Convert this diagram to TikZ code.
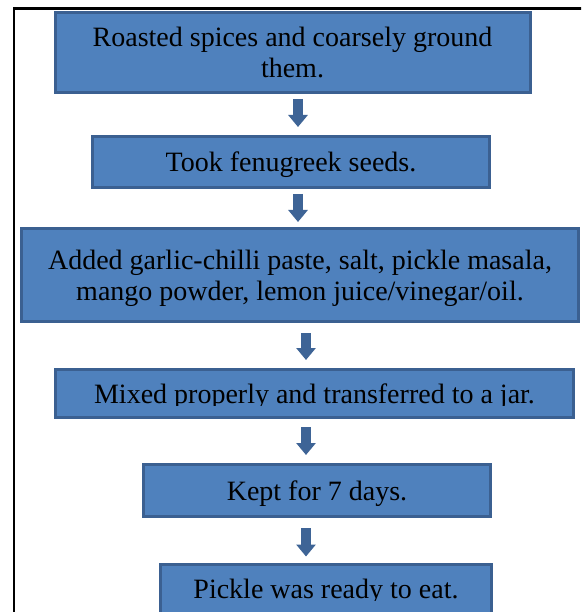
\documentclass[tikz,border=0pt]{standalone}
\usepackage{fontspec}
\setmainfont{Liberation Serif}
\usetikzlibrary{arrows.meta}
\definecolor{boxfill}{HTML}{4F81BD}
\definecolor{boxline}{HTML}{3B6091}
\definecolor{arrowc}{HTML}{3E6496}
\tikzset{
  stepbox/.style={draw=boxline, fill=boxfill, line width=3pt, rectangle, inner sep=0pt},
  steptext/.style={font=\fontsize{28}{31}\selectfont, text=black, align=center, inner sep=0pt, anchor=base},
  blockarrow/.style={draw=arrowc, line width=9.5pt, -{Triangle[width=19pt,length=12pt]}, arrowc},
}
\begin{document}
\begin{tikzpicture}[x=1pt,y=-1pt]
\clip (0,0) rectangle (581,612);
\fill[white] (0,0) rectangle (581,612);
% outer frame
\draw[line width=2.2pt, black] (14,620) -- (14,8.5) -- (590,8.5);
% boxes
\node[stepbox, minimum width=475pt, minimum height=80pt] (b1) at (292.5,52.5) {};
\node[stepbox, minimum width=397pt, minimum height=51pt] (b2) at (291,162) {};
\node[stepbox, minimum width=557pt, minimum height=93pt] (b3) at (300,275) {};
\node[stepbox, minimum width=518pt, minimum height=48pt] (b4) at (314.5,393.5) {};
\node[stepbox, minimum width=347pt, minimum height=52pt] (b5) at (317,490.5) {};
\node[stepbox, minimum width=331pt, minimum height=76pt] (b6) at (326,602.5) {};
% texts
\node[steptext] (t1) at (b1.center |- 0,78) {Roasted spices and coarsely ground\\them.};
\node[steptext] (t2) at (b2.center |- 0,172) {Took fenugreek seeds.};
\node[steptext] (t3) at (b3.center |- 0,300) {Added garlic-chilli paste, salt, pickle masala,\\mango powder, lemon juice/vinegar/oil.};
\begin{scope}
\clip (0,360) rectangle (581,405.5);
\node[steptext] (t4) at (b4.center |- 0,403) {Mixed properly and transferred to a jar.};
\end{scope}
\node[steptext] (t5) at (b5.center |- 0,500) {Kept for 7 days.};
\begin{scope}
\clip (0,560) rectangle (581,600.5);
\node[steptext] (t6) at (b6.center |- 0,598) {Pickle was ready to eat.};
\end{scope}
% arrows
\coordinate (a1s) at (298,99);   \coordinate (a1e) at (298,127);
\coordinate (a2s) at (298,194);  \coordinate (a2e) at (298,222);
\coordinate (a3s) at (306,333);  \coordinate (a3e) at (306,360);
\coordinate (a4s) at (306,427);  \coordinate (a4e) at (306,455);
\coordinate (a5s) at (306,528);  \coordinate (a5e) at (306,556.5);
\draw[blockarrow] (a1s) -- (a1e);
\draw[blockarrow] (a2s) -- (a2e);
\draw[blockarrow] (a3s) -- (a3e);
\draw[blockarrow] (a4s) -- (a4e);
\draw[blockarrow] (a5s) -- (a5e);
\end{tikzpicture}
\end{document}
